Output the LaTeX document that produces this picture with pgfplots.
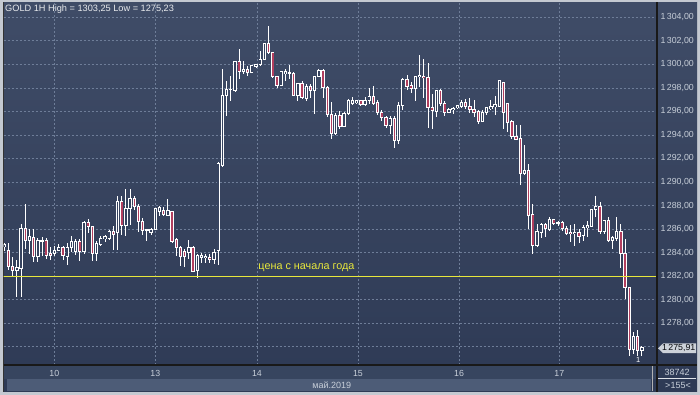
\documentclass[border=0pt]{standalone}
\usepackage{pgfplots}
\pgfplotsset{compat=1.18}
\usepackage{pgfplotstable}
\usepackage{fontspec}
\setmainfont{Liberation Sans}
\definecolor{bgtop}{HTML}{3F4C67}
\definecolor{bgbot}{HTML}{2E3A55}
\definecolor{framecol}{HTML}{C4C9D1}
\definecolor{gridcol}{HTML}{6E7D98}
\definecolor{labcol}{HTML}{C8CFD9}
\definecolor{bullfill}{HTML}{36435F}
\definecolor{bearfill}{HTML}{B23E5E}
\definecolor{yel}{HTML}{E8E83C}
\definecolor{rowcol}{HTML}{37455F}
\definecolor{stripcol}{HTML}{4D5C77}
\definecolor{tagcol}{HTML}{CDD2D9}

\pgfplotstableread{
O H L C
1284.50 1284.85 1284.10 1284.70
1284.18 1284.83 1282.56 1282.78
1282.78 1283.64 1281.99 1282.50
1282.50 1283.40 1280.20 1282.70
1282.70 1286.39 1280.20 1286.02
1286.02 1288.18 1284.32 1285.06
1285.06 1286.02 1283.92 1285.34
1285.26 1286.02 1283.18 1283.64
1283.64 1285.26 1283.18 1285.03
1285.00 1285.30 1283.70 1285.05
1285.06 1285.26 1283.47 1283.75
1283.90 1284.50 1283.40 1283.80
1283.92 1284.55 1283.70 1284.20
1284.20 1284.70 1284.10 1284.43
1284.40 1284.55 1283.40 1283.75
1283.64 1284.83 1282.98 1284.40
1284.40 1285.40 1284.10 1284.97
1284.12 1285.17 1283.83 1284.97
1284.97 1285.20 1283.27 1284.12
1284.12 1286.68 1283.92 1286.59
1286.59 1286.88 1285.68 1286.19
1286.19 1286.30 1283.27 1283.92
1283.92 1284.97 1283.27 1284.74
1284.74 1285.40 1284.55 1285.17
1285.17 1285.54 1284.89 1285.34
1285.17 1285.97 1285.10 1285.82
1285.82 1286.25 1284.20 1285.54
1285.74 1288.80 1284.20 1288.30
1288.30 1288.80 1285.54 1286.30
1286.30 1289.38 1285.40 1287.73
1287.73 1289.38 1286.39 1288.58
1288.58 1288.86 1287.67 1287.90
1287.90 1288.10 1285.80 1286.68
1286.68 1286.96 1285.54 1285.90
1285.95 1286.02 1284.97 1285.97
1285.74 1286.10 1285.54 1285.97
1285.97 1287.80 1285.97 1287.73
1287.50 1288.00 1287.10 1287.80
1287.61 1287.84 1287.13 1287.27
1287.18 1288.54 1287.13 1287.55
1287.47 1287.55 1284.86 1285.00
1285.09 1285.29 1283.73 1284.44
1284.44 1284.58 1282.88 1283.67
1284.07 1284.29 1282.82 1283.67
1284.01 1285.09 1283.44 1284.44
1284.44 1284.58 1282.45 1282.45
1282.45 1283.87 1281.89 1283.73
1283.60 1284.01 1283.16 1283.78
1283.56 1283.87 1283.16 1283.67
1283.61 1283.87 1283.16 1283.39
1283.39 1284.29 1283.02 1284.01
1284.15 1291.66 1282.93 1291.60
1291.43 1299.65 1291.24 1297.38
1297.33 1298.60 1295.63 1297.84
1297.84 1299.03 1296.90 1297.90
1297.75 1300.30 1297.67 1300.22
1300.22 1301.29 1298.74 1299.37
1299.37 1300.30 1299.17 1299.60
1299.60 1299.88 1299.03 1299.31
1299.31 1299.93 1299.25 1299.87
1299.82 1300.07 1299.73 1300.02
1300.02 1301.15 1299.88 1300.44
1300.44 1301.86 1300.39 1301.80
1301.80 1303.25 1300.87 1301.00
1301.00 1301.06 1298.80 1298.97
1298.97 1299.03 1298.03 1298.23
1298.23 1299.45 1298.17 1299.37
1299.25 1299.59 1298.60 1299.37
1299.25 1299.93 1298.74 1299.33
1299.25 1299.37 1297.28 1297.33
1297.33 1298.46 1296.90 1298.37
1298.37 1298.60 1297.04 1297.18
1297.10 1298.30 1296.90 1298.17
1298.12 1298.30 1297.18 1297.75
1297.75 1299.03 1295.77 1298.97
1298.97 1299.59 1298.90 1299.45
1299.45 1299.59 1297.18 1298.03
1298.03 1298.17 1295.57 1295.77
1295.71 1296.80 1293.66 1294.14
1294.14 1295.90 1293.98 1295.70
1295.66 1296.03 1294.51 1294.71
1294.71 1295.94 1294.66 1295.86
1295.80 1297.09 1295.74 1296.94
1296.71 1297.23 1296.60 1296.89
1296.74 1297.00 1296.60 1296.89
1296.89 1297.00 1296.49 1296.60
1296.60 1297.23 1296.51 1296.94
1296.89 1298.00 1296.66 1297.29
1297.29 1298.14 1296.51 1296.71
1296.80 1296.94 1295.66 1295.94
1295.94 1296.09 1295.23 1295.51
1295.51 1295.66 1294.57 1294.80
1294.80 1295.57 1294.09 1295.37
1295.37 1295.66 1292.86 1293.51
1293.51 1296.80 1293.23 1296.51
1296.51 1298.80 1296.14 1298.71
1298.71 1299.09 1297.80 1298.14
1298.23 1298.51 1297.57 1297.94
1297.94 1299.00 1296.89 1298.94
1298.94 1300.80 1298.09 1299.06
1299.00 1300.43 1297.14 1298.89
1298.89 1300.09 1294.60 1296.31
1296.31 1297.51 1294.51 1296.09
1296.03 1297.86 1295.57 1297.80
1297.80 1297.94 1296.51 1296.71
1296.71 1296.89 1295.66 1295.94
1295.94 1296.31 1295.86 1296.17
1296.14 1296.37 1295.80 1296.26
1296.31 1296.60 1296.23 1296.49
1296.43 1296.94 1296.31 1296.77
1296.77 1297.09 1296.23 1296.43
1296.43 1297.17 1295.86 1296.20
1296.20 1297.00 1295.57 1295.94
1296.03 1296.14 1294.94 1295.17
1295.17 1296.09 1295.09 1295.91
1295.91 1296.37 1295.74 1296.31
1296.22 1296.96 1296.11 1296.45
1296.45 1297.30 1295.68 1296.56
1296.45 1298.66 1296.39 1298.61
1298.49 1298.52 1294.55 1295.88
1296.68 1296.73 1294.26 1295.03
1295.17 1295.26 1293.69 1293.84
1293.84 1294.83 1293.55 1293.61
1293.69 1294.83 1289.72 1290.71
1290.71 1293.13 1290.57 1291.00
1291.00 1291.56 1286.02 1287.16
1287.24 1288.15 1283.89 1284.60
1284.60 1286.45 1284.46 1285.82
1285.74 1286.51 1285.26 1286.39
1286.39 1286.51 1285.31 1286.02
1286.02 1287.02 1285.82 1286.82
1286.79 1286.88 1286.31 1286.51
1286.51 1286.73 1286.31 1286.59
1286.59 1286.73 1285.88 1286.08
1286.08 1286.30 1285.50 1285.60
1285.74 1286.39 1284.89 1285.65
1285.65 1286.45 1284.60 1285.74
1285.74 1286.02 1284.80 1285.40
1285.45 1286.39 1285.03 1286.16
1286.10 1286.73 1285.37 1286.31
1286.25 1287.73 1286.17 1287.67
1287.67 1288.78 1287.02 1287.95
1287.95 1288.30 1285.60 1285.82
1285.82 1286.79 1285.60 1286.73
1286.73 1287.02 1284.89 1285.03
1285.03 1285.45 1284.32 1285.26
1285.17 1287.07 1285.03 1285.80
1285.80 1286.45 1282.70 1283.89
1283.89 1285.17 1280.06 1281.05
1281.05 1281.11 1275.23 1275.80
1275.80 1277.22 1275.37 1276.85
1276.85 1277.41 1275.23 1275.65
1275.65 1276.08 1275.23 1275.91
}\gold

\begin{document}
\begin{tikzpicture}
% frame and panels (picture units: 1pt = 1px of the reference)
\fill[framecol] (0pt,0pt) rectangle (700pt,395pt);
\shade[top color=bgtop, bottom color=bgbot] (3.5pt,3.2pt) rectangle (697pt,392.5pt);
\fill[rowcol] (3.5pt,16pt) rectangle (657pt,29.5pt);
\fill[stripcol] (7pt,3.5pt) rectangle (651pt,16pt);
\draw[black!80, line width=1.2pt] (3.5pt,3.2pt) -- (3.5pt,392.5pt);

\begin{axis}[
  at={(3.5pt,30pt)}, anchor=south west,
  scale only axis, width=653.5pt, height=362pt,
  xmin=-0.19, xmax=155.6, ymin=1274.444, ymax=1305.216,
  axis line style={draw=none},
  major tick length=0pt,
  xtick={11.92,36.0,60.24,84.3,108.4,132.3},
  xticklabels={10,13,14,15,16,17},
  ytick={1276,1278,...,1304},
  yticklabels={{},{1\,278,00},{1\,280,00},{1\,282,00},{1\,284,00},{1\,286,00},{1\,288,00},{1\,290,00},{1\,292,00},{1\,294,00},{1\,296,00},{1\,298,00},{1\,300,00},{1\,302,00},{1\,304,00}},
  yticklabel pos=right,
  tick label style={font=\fontsize{8.8}{10}\selectfont, text=labcol},
  xticklabel style={yshift=-2pt},
  grid=major,
  major grid style={gridcol, dash pattern=on 2pt off 2pt, line width=0.7pt},
  clip=true,
]
% wicks
\addplot[draw=none, mark=none, error bars/.cd, y dir=both, y explicit, error mark=none,
  error bar style={draw=white, line width=0.9pt}]
  table[x expr=\coordindex, y expr={(\thisrow{H}+\thisrow{L})/2}, y error expr={(\thisrow{H}-\thisrow{L})/2}] {\gold};
% body outlines
\addplot[draw=none, mark=none, error bars/.cd, y dir=both, y explicit, error mark=none,
  error bar style={draw=white, line width=3.3pt}]
  table[x expr=\coordindex, y expr={(\thisrow{O}+\thisrow{C})/2}, y error expr={abs(\thisrow{O}-\thisrow{C})/2+0.045}] {\gold};
% hollow bull bodies
\addplot[restrict expr to domain={\thisrow{C}-\thisrow{O}}{0:100}, draw=none, mark=none,
  error bars/.cd, y dir=both, y explicit, error mark=none,
  error bar style={draw=bullfill, line width=1.5pt}]
  table[x expr=\coordindex, y expr={(\thisrow{O}+\thisrow{C})/2}, y error expr={max(abs(\thisrow{O}-\thisrow{C})/2-0.04,0)}] {\gold};
% filled bear bodies
\addplot[restrict expr to domain={\thisrow{O}-\thisrow{C}}{0.0001:100}, draw=none, mark=none,
  error bars/.cd, y dir=both, y explicit, error mark=none,
  error bar style={draw=bearfill, line width=1.5pt}]
  table[x expr=\coordindex, y expr={(\thisrow{O}+\thisrow{C})/2}, y error expr={max(abs(\thisrow{O}-\thisrow{C})/2-0.04,0)}] {\gold};
% year-open level
\addplot[yel, line width=1.2pt, mark=none] coordinates {(-1,1282) (160,1282)};
\node[anchor=base west, text=yel, font=\fontsize{10.8}{12}\selectfont, inner sep=0pt] at (axis cs:60.55,1282.56) {цена с начала года};
\end{axis}

% axis borders
\draw[black!90, line width=1.1pt] (3.5pt,30pt) -- (697pt,30pt);
\draw[black!90, line width=1.1pt] (657pt,3.2pt) -- (657pt,392.5pt);
\draw[gray!60, line width=0.6pt] (652pt,3.5pt) -- (652pt,29pt);
\draw[labcol!60, line width=0.5pt] (658pt,16.5pt) -- (696pt,16.5pt);

% title
\node[anchor=west, text=white!88!bgtop, font=\fontsize{9.2}{11}\selectfont, inner sep=0pt] at (5pt,385.7pt) {GOLD 1H High = 1303,25 Low = 1275,23};

% bottom labels
\node[text=labcol, font=\fontsize{9}{10}\selectfont, inner sep=0pt] at (331.7pt,10pt) {май.2019};
\node[text=labcol, font=\fontsize{9}{10}\selectfont, inner sep=0pt] at (677pt,22.3pt) {38742};
\node[text=labcol, font=\fontsize{9}{10}\selectfont, inner sep=0pt] at (678pt,9.5pt) {>155<};
\node[text=white, font=\fontsize{7.5}{8}\selectfont, inner sep=0pt] at (638.3pt,35pt) {1};

% last price tag
\fill[tagcol] (658pt,46.7pt) -- (663pt,51.5pt) -- (696pt,51.5pt) -- (696pt,41.9pt) -- (663pt,41.9pt) -- cycle;
\node[anchor=east, text=black!85!bgbot, font=\fontsize{8.8}{10}\selectfont, inner sep=0pt] at (695.5pt,46.7pt) {1\,275,91};

\pgfresetboundingbox
\path[use as bounding box] (0pt,0pt) rectangle (700pt,395pt);
\end{tikzpicture}
\end{document}
